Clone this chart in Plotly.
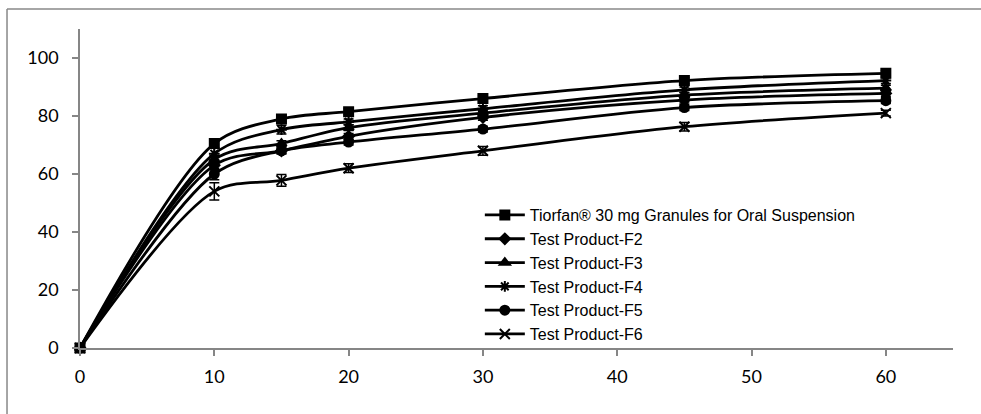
import plotly.graph_objects as go

time_min = [0, 10, 15, 20, 30, 45, 60]
tick_vals_y = [0, 20, 40, 60, 80, 100]
tick_vals_x = [0, 10, 20, 30, 40, 50, 60]

names = [
    "Tiorfan® 30 mg Granules for Oral Suspension",
    "Test Product-F2",
    "Test Product-F3",
    "Test Product-F4",
    "Test Product-F5",
    "Test Product-F6",
]
tiorfan = [0, 70.5, 79.0, 81.5, 86.0, 92.2, 94.7]
f2 = [0, 63.0, 68.0, 73.0, 79.5, 85.5, 87.8]
f3 = [0, 65.0, 70.5, 76.0, 81.0, 87.2, 89.6]
f4 = [0, 67.0, 75.3, 78.0, 82.5, 89.0, 92.2]
f5 = [0, 60.0, 68.0, 71.0, 75.5, 82.9, 85.3]
f6 = [0, 54.0, 57.8, 62.0, 68.0, 76.3, 81.0]

err_tiorfan = [0, 1.5, 1.0, 1.0, 1.0, 1.0, 1.0]
err_f2 = [0, 1.5, 1.0, 1.0, 1.0, 1.0, 1.0]
err_f3 = [0, 1.5, 1.0, 1.0, 1.0, 1.0, 1.0]
err_f4 = [0, 2.0, 1.5, 1.0, 1.0, 1.0, 1.0]
err_f5 = [0, 2.0, 1.0, 1.0, 1.0, 1.0, 1.0]
err_f6 = [0, 3.0, 2.0, 1.5, 1.5, 1.5, 1.0]

series = [tiorfan, f2, f3, f4, f5, f6]
errors = [err_tiorfan, err_f2, err_f3, err_f4, err_f5, err_f6]
symbols = ["square", "diamond", "triangle-up", "asterisk-open", "circle", "x-thin-open"]
sizes = [9, 8, 9, 9, 9, 10]

fig = go.Figure()
for name, ys, err, sym, sz in zip(names, series, errors, symbols, sizes):
    fig.add_trace(go.Scatter(
        x=time_min, y=ys, name=name, mode="lines+markers",
        line=dict(color="black", width=2.8, shape="spline", smoothing=0.9),
        marker=dict(symbol=sym, size=sz, color="black",
                    line=dict(color="black", width=2)),
        error_y=dict(type="data", array=err, color="black", thickness=1.5, width=5),
        cliponaxis=False,
    ))

axis_font = dict(family="Lato, Open Sans, sans-serif", size=18, color="black")
fig.update_layout(
    width=981, height=414,
    margin=dict(l=80, r=28, t=29, b=66),
    paper_bgcolor="white", plot_bgcolor="white",
    showlegend=True,
    legend=dict(x=0.458, y=0.47, xanchor="left", yanchor="top",
                font=dict(family="Liberation Sans, Arial, sans-serif", size=16, color="black"),
                bgcolor="rgba(0,0,0,0)", tracegroupgap=0, itemwidth=40),
    xaxis=dict(range=[0, 65], tickvals=tick_vals_x, showgrid=False, zeroline=False,
               showline=True, linecolor="#868686", linewidth=1.5,
               ticks="outside", ticklen=6, tickcolor="#868686", tickwidth=1.5,
               tickfont=axis_font, ticklabelstandoff=6),
    yaxis=dict(range=[0, 110], tickvals=tick_vals_y, showgrid=False, zeroline=False,
               showline=True, linecolor="#868686", linewidth=1.5,
               ticks="outside", ticklen=6, tickcolor="#868686", tickwidth=1.5,
               tickfont=axis_font, ticklabelstandoff=10),
    shapes=[
        dict(type="line", xref="paper", yref="paper", x0=-0.0836, x1=1.04, y0=1.0627, y1=1.0627,
             line=dict(color="#888888", width=1.5)),
        dict(type="line", xref="paper", yref="paper", x0=-0.0836, x1=-0.0836, y0=-0.25, y1=1.0627,
             line=dict(color="#888888", width=1.5)),
    ],
)

fig.write_html("out.html")
